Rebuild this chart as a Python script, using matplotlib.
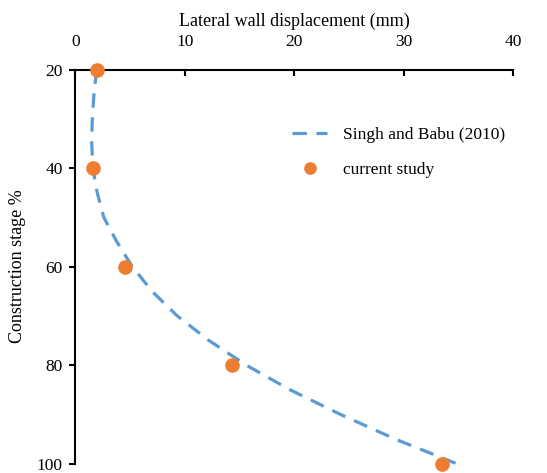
import matplotlib.pyplot as plt

plt.rcParams['font.family'] = ['Liberation Serif', 'DejaVu Serif']

# construction stage (%) and lateral wall displacement (mm)
singh_stage = [20, 25, 30, 35, 40, 45, 50, 55, 60, 65, 70, 75, 80, 85, 90, 95, 100]
singh_disp = [1.95, 1.7, 1.55, 1.5, 1.6, 2.0, 2.6, 3.8, 5.2, 7.0, 9.3, 12.2, 15.6, 19.6, 24.2, 29.2, 34.8]

study_stage = [20, 40, 60, 80, 100]
study_disp = [1.95, 1.65, 4.5, 14.3, 33.5]

fig = plt.figure(figsize=(5.47, 4.73), dpi=100)
ax = fig.add_axes([0.1377, 0.02, 0.8003, 0.833])

ax.plot(singh_disp, singh_stage, color='#5B9BD5', lw=2.3, ls=(0, (4.5, 3)),
        label='Singh and Babu (2010)', clip_on=False)
ax.plot(study_disp, study_stage, 'o', color='#ED7D31', ms=9.5,
        label='current study', clip_on=False, zorder=3)

ax.set_xlim(0, 40)
ax.set_ylim(100, 20)
ax.set_xticks([0, 10, 20, 30, 40])
ax.set_yticks([20, 40, 60, 80, 100])
ax.xaxis.tick_top()
ax.xaxis.set_label_position('top')
ax.tick_params(axis='x', direction='in', length=4, width=1.5, labelsize=12.5, pad=14)
ax.tick_params(axis='y', direction='out', length=4, width=1.5, labelsize=12.5, pad=5)
for s in ['right', 'bottom']:
    ax.spines[s].set_visible(False)
for s in ['top', 'left']:
    ax.spines[s].set_linewidth(1.5)

ax.set_xlabel('Lateral wall displacement (mm)', fontsize=13, labelpad=6)
ax.set_ylabel('Construction stage %', fontsize=13, labelpad=8)

ax.legend(loc='upper left', bbox_to_anchor=(0.46, 0.895), frameon=False,
          fontsize=12.5, handlelength=2.0, handletextpad=0.9, labelspacing=1.1,
          markerscale=0.85)

fig.savefig('out.png', dpi=100)
